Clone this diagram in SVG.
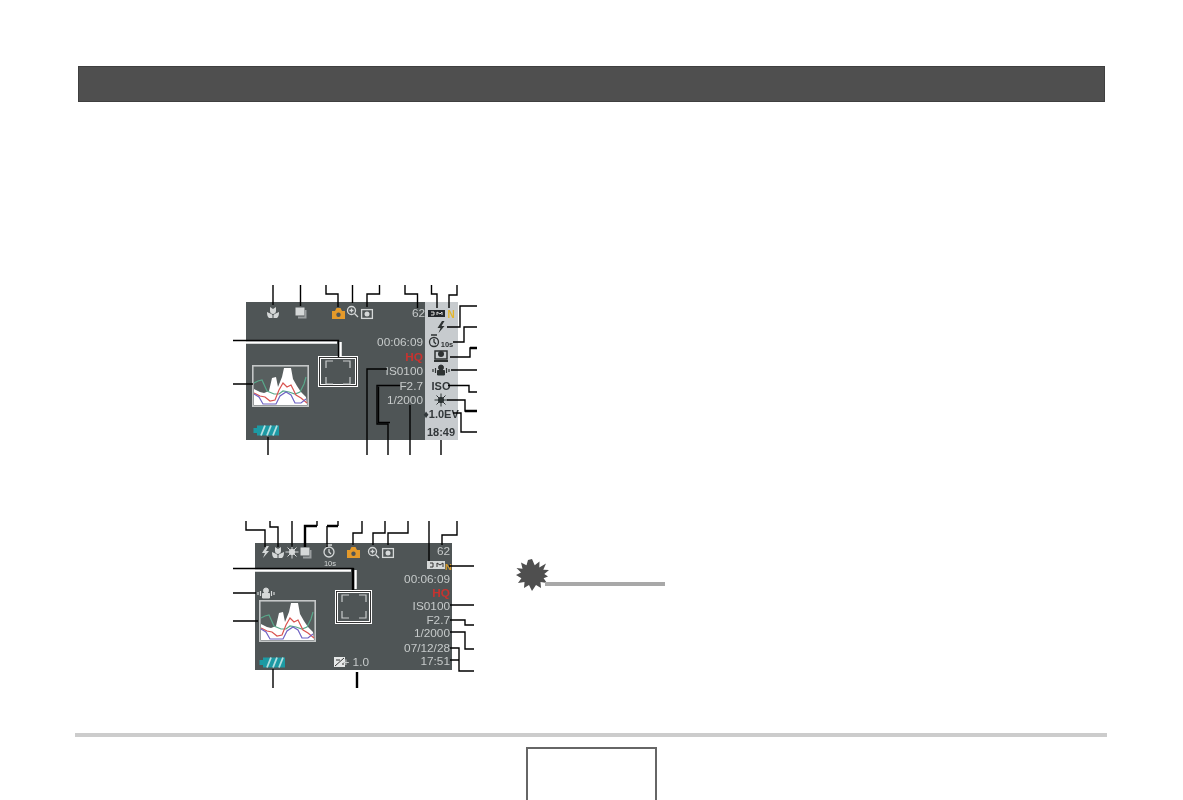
<svg xmlns="http://www.w3.org/2000/svg" xmlns:xlink="http://www.w3.org/1999/xlink" width="1183" height="800" viewBox="0 0 1183 800">
<style>
.panel{fill:#4f5556}
.strip{fill:#c7cbce}
.ld{fill:none;stroke:#000;stroke-width:1.4}
.thick{fill:none;stroke:#000;stroke-width:2.4}
.halo{fill:none;stroke:#fff;stroke-width:2.5}
.t{font-family:"Liberation Sans",Arial,sans-serif;font-size:11.800px;fill:#c6caca;text-anchor:end}
.s{font-family:"Liberation Sans",Arial,sans-serif;font-size:11px;font-weight:bold;fill:#33383a;text-anchor:middle}
.red{fill:#c8332f;font-weight:bold}
.ic{fill:none;stroke:#d5d8d8;stroke-width:1.3}
.icf{fill:#d5d8d8}
.dk{fill:none;stroke:#2d3133;stroke-width:1.3}
.dkf{fill:#2d3133}
.soft{filter:url(#b)}
</style>
<defs>
<filter id="b" x="-10%" y="-10%" width="120%" height="120%"><feGaussianBlur stdDeviation="0.4"/></filter>
<g id="hist">
<rect x="0.800" y="0.800" width="55.400" height="40.400" fill="#585e5f" stroke="#c4c7c7" stroke-width="1.600"/>
<path d="M2 40V24L8 27 12 28 17 26 20 13 24 12 26 22 30 12 32 3 39 3 41 14 45 21 49 27 54 32 55 40Z" fill="#fff"/>
<path d="M2 18 6 16 10 15 15 26 22 29 27 29 31 26 37 27 43 29 48 27 52 19 54 12" fill="none" stroke="#5aa88a" stroke-width="1.200"/>
<path d="M2 28 8 31 13 32 18 36 23 35 27 25 31 18 35 22 39 20 44 30 49 33 55 38" fill="none" stroke="#d9534f" stroke-width="1.200"/>
<path d="M2 29 7 32 11 39 18 39 24 39 28 31 34 27 39 30 43 38 49 38 54 34" fill="none" stroke="#6f63c4" stroke-width="1.200"/>
</g>
<g id="brk"><path d="M0 7V0H7M17 0H24V7M24 16V23H17M7 23H0V16" fill="none" stroke="#c9cccc" stroke-width="1.200"/></g>
<g id="batt">
<path d="M4 0.500H26V10.500H4V8H0.500V3H4Z" fill="#1f9aa4"/>
<path d="M8 10.500 12 0.500M14 10.500 18 0.500M20 10.500 24 0.500" stroke="#b7dfe0" stroke-width="1.800" fill="none"/>
</g>
<g id="cam"><path d="M0 3H3L4.500 0H8.500L10 3H13V11H0Z" fill="#e59a2c"/><circle cx="6.500" cy="6.700" r="2.200" fill="#4f5556"/></g>
<g id="zoomi"><circle cx="4.500" cy="4.500" r="4" class="ic"/><path d="M2.500 4.500H6.500M4.500 2.500V6.500" class="ic" stroke-width="1"/><path d="M7.500 7.500 11 11" class="ic" stroke-width="2"/></g>
<g id="meter"><rect x="0.600" y="0.600" width="10.800" height="8.800" class="ic"/><circle cx="6" cy="5" r="2.500" class="icf"/></g>
<g id="macro"><path d="M3 0 6 2 9 0V4C9 6 7.500 7 6 7S3 6 3 4ZM0 5C2 6 5 7 5.500 8V11H2C0.500 10 0 8 0 5ZM12 5C10 6 7 7 6.500 8V11H10C11.500 10 12 8 12 5Z" class="icf"/></g>
<g id="cont"><rect x="0.500" y="0.500" width="9" height="8" class="icf"/><path d="M10.500 3V10.500H3" fill="none" stroke="#9a9e9f" stroke-width="2"/></g>
<path id="fl" d="M4.500 0 0 7H3L1 12 7 5H4L7 0Z"/>
<g id="sunp"><circle cx="0" cy="0" r="2.700"/><path d="M0-6.500V6.500M-6.500 0H6.500M-4.500-4.500 4.500 4.500M-4.500 4.500 4.500-4.500" stroke-width="1"/></g>
<g id="persn"><circle cx="0" cy="-2.500" r="2.500"/><path d="M-3.500 5V0.500H3.500V5Z"/><path d="M-5.500-2V3M5.500-2V3M-8-1V2M8-1V2" stroke-width="1.200" fill="none"/></g>
</defs>
<rect width="1183" height="800" fill="#fff"/>
<g id="header"><rect x="78.500" y="66.500" width="1026" height="35" fill="#4f4f4f" stroke="#3f3f3f"/></g>
<g id="screen-rec">
<rect class="panel" x="246" y="302" width="179" height="138"/>
<rect class="strip" x="425" y="302" width="33" height="138"/>
<g class="soft">
<use href="#macro" x="267" y="307"/>
<use href="#cont" x="295" y="307"/>
<use href="#cam" x="332" y="308"/>
<use href="#zoomi" x="347" y="306"/>
<use href="#meter" x="361" y="309"/>
<text class="t" x="425" y="317">62</text>
<rect x="428" y="310" width="17" height="7" fill="#24282a"/><path d="M431 312H434V315H431M437 315V312L440 314 442 312V315" stroke="#ddd" fill="none"/>
<text x="451" y="318" font-family="Liberation Sans, sans-serif" font-size="10" font-weight="bold" fill="#e4b52a" text-anchor="middle">N</text>
<use href="#fl" transform="translate(437.500 321)" class="dkf"/>
<g class="dk"><circle cx="434" cy="342" r="4.500"/><path d="M434 339V342L436 344M431 335H437"/></g>
<text x="447" y="347" font-family="Liberation Sans, sans-serif" font-size="7.500" font-weight="bold" fill="#2d3133" text-anchor="middle">10s</text>
<g><rect x="435" y="351" width="12" height="8" fill="none" stroke="#2d3133" stroke-width="1.500"/><circle cx="441" cy="354" r="3" class="dkf"/><path d="M434 361H448" stroke="#2d3133" stroke-width="2"/></g>
<use href="#persn" transform="translate(441 370)" class="dkf" stroke="#2d3133"/>
<text class="s" x="441" y="390">ISO</text>
<use href="#sunp" transform="translate(441 400)" class="dkf" stroke="#2d3133"/>
<text class="s" x="441" y="418" font-size="9.500">♦1.0EV</text>
<text class="s" x="441" y="436">18:49</text>
<text class="t" x="423" y="346">00:06:09</text>
<text class="t red" x="423" y="361">HQ</text>
<text class="t" x="423" y="375">IS0100</text>
<text class="t" x="423" y="390">F2.7</text>
<text class="t" x="423" y="404">1/2000</text>
<use href="#batt" x="253" y="425"/>
<use href="#hist" x="252" y="365"/>
</g>
<g id="focus-1"><rect x="319.500" y="357.500" width="37" height="28" fill="none" stroke="#fff" stroke-width="3"/><rect x="319.500" y="357.500" width="37" height="28" fill="none" stroke="#222" stroke-width="0.900"/><use href="#brk" x="326" y="361"/></g>
</g>
<g id="screen-play">
<rect class="panel" x="255" y="543" width="197" height="127"/>
<g class="soft">
<use href="#fl" transform="translate(262 546)" class="icf"/>
<use href="#macro" x="272" y="547"/>
<use href="#sunp" transform="translate(292 552)" class="icf" stroke="#d5d8d8"/>
<use href="#cont" x="300" y="547"/>
<g class="ic"><circle cx="329" cy="552" r="5"/><path d="M329 549V552L331 554M326 545H332"/></g>
<text x="330" y="566" font-family="Liberation Sans, sans-serif" font-size="7.500" fill="#d5d8d8" text-anchor="middle">10s</text>
<use href="#cam" x="347" y="547"/>
<use href="#zoomi" x="368" y="547"/>
<use href="#meter" x="382" y="548"/>
<text class="t" x="450" y="555">62</text>
<rect x="427" y="561" width="18" height="8" fill="#d5d8d8"/><path d="M430 563H433V567H430M437 567V563L440 565 443 563V567" stroke="#333" fill="none"/>
<text x="445" y="570" font-family="Liberation Sans, sans-serif" font-size="9.500" font-weight="bold" fill="#d69b2a">N</text>
<text class="t" x="450" y="583">00:06:09</text>
<text class="t red" x="450" y="597">HQ</text>
<text class="t" x="450" y="610">IS0100</text>
<text class="t" x="450" y="624">F2.7</text>
<text class="t" x="450" y="637">1/2000</text>
<text class="t" x="450" y="652">07/12/28</text>
<text class="t" x="450" y="665">17:51</text>
<use href="#persn" transform="translate(266 593)" class="icf" stroke="#d5d8d8"/>
<use href="#batt" x="259" y="657"/>
<g><rect x="334" y="657" width="11" height="10" fill="#e6e8e8"/><path d="M335 666 344 658" stroke="#333"/><path d="M336 660H340M342 664H344" stroke="#333"/></g>
<text class="t" x="369" y="666">+ 1.0</text>
<use href="#hist" x="259" y="600"/>
</g>
<g id="focus-2"><rect x="336.500" y="591.500" width="34" height="31" fill="none" stroke="#fff" stroke-width="3"/><rect x="336.500" y="591.500" width="34" height="31" fill="none" stroke="#222" stroke-width="0.900"/><use href="#brk" x="342" y="595"/></g>
</g>
<g id="connectors">
<path class="halo" d="M246 342.500H337M340.500 342V356"/>
<path class="halo" d="M255 570.500H351M355.500 570V589"/>
<path class="ld" d="M273 285V305M300.500 285V306M326 285V294H338V307M352.500 285V303M379.500 285V294H367V307M405 285V294H417.500V308M431.500 285V294H437V308M457 285V295H449V308"/>
<path class="ld" d="M477 306H460V327H447M477 327H464V342H453M477 348H470V357H450M477 370H451M477 392H469V385.500H448M477 411H465V400H447M477 432H461V413H453"/>
<path class="thick" d="M470 348H477M465 411H477"/>
<path class="ld" d="M441 440V455M410 405V455M400 385.500H377V424H388V455M387 369H367V455M268 437V455M233 384H253M233 340.500H338.500V357"/>
<path class="ld" d="M378.500 386.500V422.500H390" stroke-width="1"/>
<path class="ld" d="M246 521V530H265V547M270 521V527H278V547M292 521V547M327 526V547M362 521V533H353V545M385 521V533H373V545M408 521V533H388V545M429 521V561M457 521V535H442V545"/>
<path class="thick" d="M317 526H305V547M338 526H327"/>
<path class="ld" d="M317 521V526M338 521V526"/>
<path class="ld" d="M449 566H474M450 605H474M450 620H465V625H474M450 632H465V649H474M450 648H459V671H474M450 660H459"/>
<path class="ld" d="M273 669V688M233 568.500H353V590M233 593H256M233 621H258"/>
<path class="thick" d="M357 672V688M353 568V590"/>
</g>
<g id="important">
<polygon fill="#4f4f4f" points="532,559 534.700,565.200 539.500,561.500 539.300,567.400 546,563.600 543.300,569.700 549,570 544.300,574 548,576.500 543.600,578.300 547,583 540.500,582 541,588 536,585 532,591 529,585 524,588 524.500,582 518,583 521.400,578.300 516,575 521,572.500 516.500,568 522.500,568.700 521,562.500 526.500,565.200 528,560"/>
<rect x="545" y="582" width="120" height="4" fill="#a8a8a8"/>
</g>
<g id="footer">
<rect x="75" y="733" width="1032" height="4" fill="#cccccc"/>
<path d="M527 800V748H656V800" fill="none" stroke="#666" stroke-width="2"/>
</g>
</svg>
